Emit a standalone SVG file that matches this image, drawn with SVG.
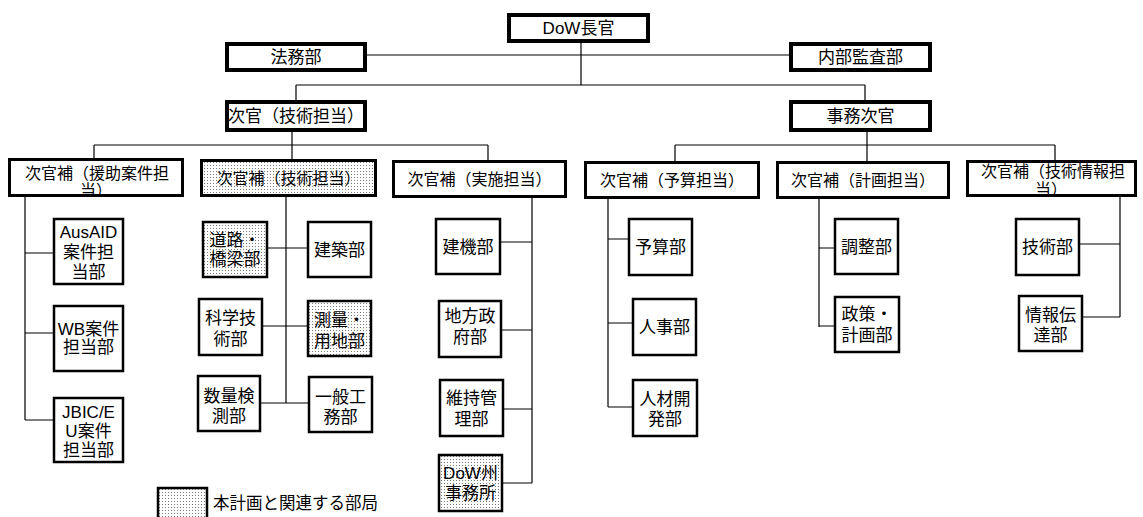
<svg xmlns="http://www.w3.org/2000/svg" width="1143" height="517" viewBox="0 0 1143 517">
<style>
.b1{fill:#fff;stroke:#000;stroke-width:4}
.b2{fill:#fff;stroke:#000;stroke-width:3}
.b3{fill:#fff;stroke:#000;stroke-width:2.5}
.hl{fill:url(#dots)}
.ln{stroke:#000;stroke-width:1.2;fill:none}
text{font-family:"Liberation Sans","Noto Sans CJK JP",sans-serif;fill:#000;text-anchor:middle}
.t1{font-size:17px}
.t2{font-size:16px}
.t3{font-size:17px}
.lg{font-size:16.5px;text-anchor:start}
</style>
<defs>
<pattern id="dots" width="3" height="3" patternUnits="userSpaceOnUse">
<rect width="3" height="3" fill="#fff"/>
<rect width="1" height="1" fill="#777"/>
</pattern>
<clipPath id="cpA"><rect x="11" y="161" width="170" height="34"/></clipPath>
<clipPath id="cpB"><rect x="969" y="163" width="165" height="31"/></clipPath>
</defs>
<rect width="1143" height="517" fill="#fff"/>

<g id="connectors">
<path class="ln" d="M581 41V85M367 55H789M296 85H865M296 85V102M865 85V102"/>
<path class="ln" d="M292 130V145M94 145H488M94 145V159M292 145V160M488 145V161"/>
<path class="ln" d="M867 130V145M675 145H1055M675 145V162M867 145V162M1055 145V161"/>
<path class="ln" d="M25 197V420M25 253H54M25 333H54M25 420H54"/>
<path class="ln" d="M286 196V403M267 248H308M262 326H308M260 403H309"/>
<path class="ln" d="M532 197V483M500 242H532M501 330H532M503 409H532M502 483H532"/>
<path class="ln" d="M608 198V407M608 239H629M608 323H633M608 407H633"/>
<path class="ln" d="M819 198V327M819 248H835M819 326H835"/>
<path class="ln" d="M1120 196V317M1079 244H1120M1082 317H1120"/>
</g>

<g id="n-dow"><rect class="b1" x="509" y="15" width="139" height="26"/><text class="t1" x="578.5" y="34">DoW長官</text></g>
<g id="n-houmu"><rect class="b1" x="227" y="44" width="138" height="26"/><text class="t1" x="296" y="63">法務部</text></g>
<g id="n-naibu"><rect class="b1" x="791" y="44" width="139" height="26"/><text class="t1" x="860.5" y="63">内部監査部</text></g>
<g id="n-jikan-gijutsu"><rect class="b1" x="227" y="102" width="138" height="28"/><text class="t1" x="296" y="122">次官（技術担当）</text></g>
<g id="n-jimujikan"><rect class="b1" x="791" y="102" width="139" height="28"/><text class="t1" x="860.5" y="122">事務次官</text></g>

<g id="n-hojo-enjo"><rect class="b2" x="9.5" y="159.5" width="173" height="36"/><g clip-path="url(#cpA)"><text class="t2" x="97" y="179">次官補（援助案件担</text><text class="t2" x="96" y="196">当）</text></g></g>
<g id="n-hojo-gijutsu"><rect class="b2 hl" x="201.5" y="160.5" width="174" height="35"/><text class="t2" x="288.5" y="184">次官補（技術担当）</text></g>
<g id="n-hojo-jisshi"><rect class="b2" x="393.5" y="161.5" width="172" height="35"/><text class="t2" x="479.5" y="185">次官補（実施担当）</text></g>
<g id="n-hojo-yosan"><rect class="b2" x="585.5" y="162.5" width="173" height="35"/><text class="t2" x="672" y="186">次官補（予算担当）</text></g>
<g id="n-hojo-keikaku"><rect class="b2" x="777.5" y="162.5" width="171" height="35"/><text class="t2" x="863" y="186">次官補（計画担当）</text></g>
<g id="n-hojo-joho"><rect class="b2" x="967.5" y="161.5" width="168" height="34"/><g clip-path="url(#cpB)"><text class="t2" x="1053" y="177">次官補（技術情報担</text><text class="t2" x="1051" y="195">当）</text></g></g>

<g id="n-ausaid"><rect class="b3" x="54" y="219" width="69" height="65"/><text class="t3" x="88.5" y="238">AusAID</text><text class="t3" x="88.5" y="258">案件担</text><text class="t3" x="88.5" y="278">当部</text></g>
<g id="n-wb"><rect class="b3" x="54" y="306" width="69" height="65"/><text class="t3" x="88.5" y="335">WB案件</text><text class="t3" x="88.5" y="353">担当部</text></g>
<g id="n-jbic"><rect class="b3" x="54" y="398" width="69" height="64"/><text class="t3" x="88.5" y="418">JBIC/E</text><text class="t3" x="88.5" y="437">U案件</text><text class="t3" x="88.5" y="456">担当部</text></g>

<g id="n-doro"><rect class="b3 hl" x="203" y="222" width="64" height="55"/><text class="t3" x="235" y="246">道路・</text><text class="t3" x="235" y="265">橋梁部</text></g>
<g id="n-kenchiku"><rect class="b3" x="308" y="222" width="63" height="55"/><text class="t3" x="339.5" y="255.5">建築部</text></g>
<g id="n-kagaku"><rect class="b3" x="199" y="299" width="63" height="56"/><text class="t3" x="230.5" y="324">科学技</text><text class="t3" x="230.5" y="345">術部</text></g>
<g id="n-sokuryo"><rect class="b3 hl" x="308" y="301" width="63" height="55"/><text class="t3" x="339.5" y="326">測量・</text><text class="t3" x="339.5" y="347">用地部</text></g>
<g id="n-suryo"><rect class="b3" x="198" y="376" width="62" height="55"/><text class="t3" x="229" y="402">数量検</text><text class="t3" x="229" y="422">測部</text></g>
<g id="n-ippan"><rect class="b3" x="309" y="377" width="63" height="55"/><text class="t3" x="340.5" y="403">一般工</text><text class="t3" x="340.5" y="423">務部</text></g>

<g id="n-kenki"><rect class="b3" x="436" y="219" width="64" height="55"/><text class="t3" x="468" y="252.5">建機部</text></g>
<g id="n-chiho"><rect class="b3" x="439" y="301" width="62" height="56"/><text class="t3" x="470" y="322">地方政</text><text class="t3" x="470" y="343">府部</text></g>
<g id="n-iji"><rect class="b3" x="440" y="380" width="63" height="56"/><text class="t3" x="471.5" y="404">維持管</text><text class="t3" x="471.5" y="425">理部</text></g>
<g id="n-shu"><rect class="b3 hl" x="439" y="455" width="63" height="56"/><text class="t3" x="470.5" y="479">DoW州</text><text class="t3" x="470.5" y="499">事務所</text></g>

<g id="n-yosanbu"><rect class="b3" x="629" y="219" width="63" height="56"/><text class="t3" x="660.5" y="253">予算部</text></g>
<g id="n-jinji"><rect class="b3" x="633" y="299" width="63" height="56"/><text class="t3" x="664.5" y="333">人事部</text></g>
<g id="n-jinzai"><rect class="b3" x="633" y="380" width="64" height="56"/><text class="t3" x="665" y="405">人材開</text><text class="t3" x="665" y="425">発部</text></g>

<g id="n-chosei"><rect class="b3" x="835" y="219" width="63" height="55"/><text class="t3" x="866.5" y="252.5">調整部</text></g>
<g id="n-seisaku"><rect class="b3" x="835" y="297" width="64" height="55"/><text class="t3" x="867" y="320">政策・</text><text class="t3" x="867" y="341">計画部</text></g>

<g id="n-gijutsubu"><rect class="b3" x="1016" y="219" width="63" height="56"/><text class="t3" x="1047.5" y="253">技術部</text></g>
<g id="n-joho"><rect class="b3" x="1019" y="296" width="63" height="55"/><text class="t3" x="1050.5" y="321">情報伝</text><text class="t3" x="1050.5" y="341">達部</text></g>

<g id="legend"><rect class="b3 hl" x="158" y="488" width="49" height="40"/><text class="lg" x="213" y="509">本計画と関連する部局</text></g>
</svg>
